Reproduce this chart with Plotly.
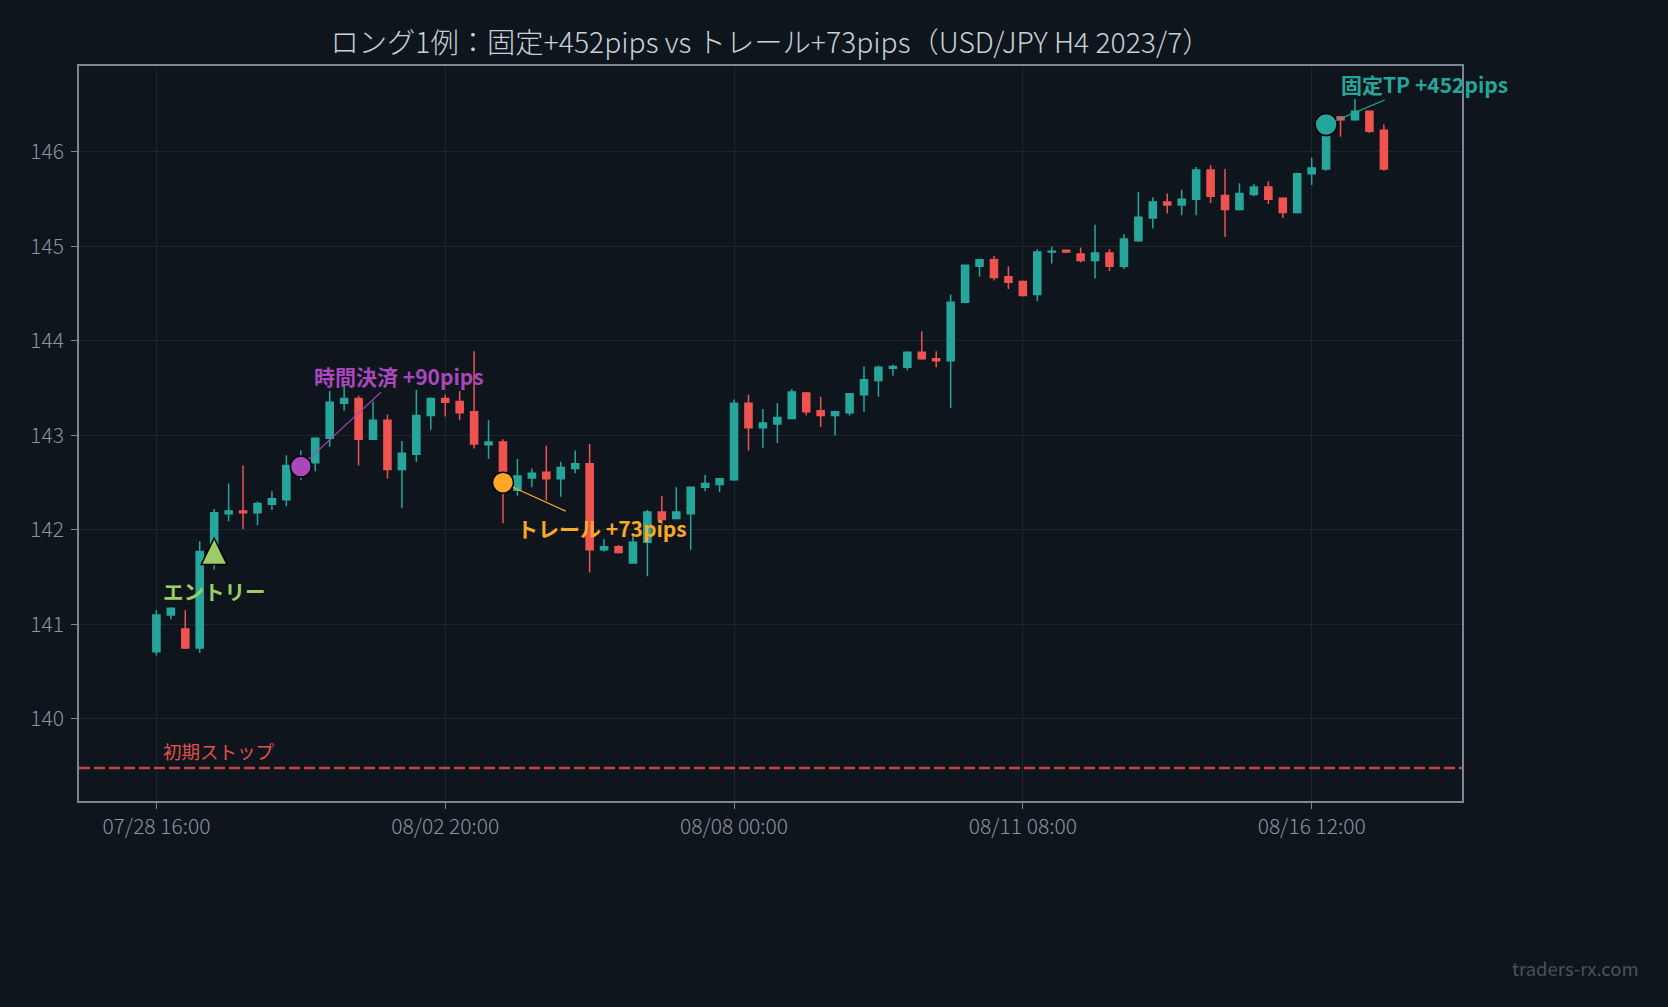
import pandas as pd
import plotly.graph_objects as go

# ---- data ----
OPEN = [140.71, 141.10, 140.95, 140.75, 141.77, 142.17, 142.20, 142.18, 142.27, 142.32,
        142.64, 142.71, 142.97, 143.34, 143.39, 142.96, 143.16, 142.64, 142.80, 143.21,
        143.39, 143.36, 143.25, 142.90, 142.93, 142.42, 142.55, 142.61, 142.54, 142.65,
        142.70, 141.79, 141.82, 141.65, 141.87, 142.19, 142.12, 142.17, 142.45, 142.48,
        142.53, 143.34, 143.08, 143.12, 143.18, 143.45, 143.26, 143.21, 143.24, 143.43,
        143.58, 143.71, 143.72, 143.88, 143.81, 143.79, 144.41, 144.79, 144.86, 144.68,
        144.63, 144.49, 144.94, 144.96, 144.92, 144.85, 144.93, 144.79, 145.06, 145.30,
        145.47, 145.44, 145.50, 145.81, 145.54, 145.39, 145.55, 145.63, 145.51, 145.36,
        145.77, 145.82, 146.37, 146.34, 146.43, 146.23]
HIGH = [141.15, 141.18, 141.15, 141.88, 142.22, 142.49, 142.68, 142.30, 142.41, 142.79,
        142.84, 142.98, 143.47, 143.54, 143.42, 143.36, 143.22, 142.94, 143.48, 143.40,
        143.43, 143.47, 143.89, 143.16, 142.96, 142.75, 142.65, 142.89, 142.72, 142.84,
        142.91, 141.90, 141.84, 141.94, 142.21, 142.36, 142.45, 142.45, 142.58, 142.55,
        143.38, 143.43, 143.28, 143.34, 143.49, 143.46, 143.41, 143.26, 143.45, 143.73,
        143.74, 143.75, 143.89, 144.10, 143.89, 144.49, 144.81, 144.87, 144.90, 144.79,
        144.64, 144.97, 145.00, 144.96, 144.99, 145.23, 144.97, 145.13, 145.58, 145.52,
        145.56, 145.60, 145.84, 145.86, 145.82, 145.67, 145.66, 145.69, 145.52, 145.78,
        145.94, 146.36, 146.38, 146.56, 146.44, 146.29]
LOW = [140.67, 141.05, 140.74, 140.70, 141.58, 142.09, 142.01, 142.05, 142.21, 142.25,
       142.53, 142.62, 142.88, 143.26, 142.68, 142.95, 142.54, 142.23, 142.72, 143.06,
       143.20, 143.16, 142.86, 142.75, 142.07, 142.36, 142.45, 142.31, 142.35, 142.60,
       141.55, 141.77, 141.75, 141.65, 141.51, 142.06, 142.11, 141.79, 142.41, 142.40,
       142.52, 142.84, 142.87, 142.92, 143.17, 143.21, 143.09, 143.00, 143.21, 143.25,
       143.41, 143.63, 143.69, 143.80, 143.72, 143.29, 144.40, 144.68, 144.64, 144.55,
       144.47, 144.42, 144.82, 144.93, 144.83, 144.66, 144.74, 144.76, 145.05, 145.19,
       145.35, 145.33, 145.33, 145.46, 145.10, 145.38, 145.53, 145.45, 145.30, 145.35,
       145.65, 145.80, 146.16, 146.33, 146.20, 145.80]
CLOSE = [141.10, 141.17, 140.75, 141.77, 142.18, 142.20, 142.18, 142.28, 142.33, 142.68,
         142.67, 142.97, 143.35, 143.39, 142.96, 143.16, 142.64, 142.81, 143.21, 143.39,
         143.35, 143.24, 142.91, 142.93, 142.50, 142.57, 142.60, 142.54, 142.66, 142.70,
         141.79, 141.82, 141.76, 141.87, 142.19, 142.11, 142.19, 142.45, 142.49, 142.54,
         143.34, 143.08, 143.13, 143.19, 143.46, 143.25, 143.21, 143.25, 143.44, 143.59,
         143.72, 143.73, 143.88, 143.81, 143.79, 144.41, 144.80, 144.86, 144.67, 144.62,
         144.48, 144.94, 144.95, 144.94, 144.85, 144.93, 144.79, 145.08, 145.31, 145.47,
         145.44, 145.50, 145.81, 145.53, 145.39, 145.56, 145.63, 145.50, 145.36, 145.77,
         145.83, 146.33, 146.34, 146.43, 146.22, 145.82]

TICK_LABELS = ["07/28 16:00", "08/02 20:00", "08/08 00:00", "08/11 08:00", "08/16 12:00"]

ENTRY_IDX, ENTRY_PRICE = 4, 141.77
TIME_IDX, TIME_PRICE = 10, 142.67
TRAIL_IDX, TRAIL_PRICE = 24, 142.50
TP_IDX, TP_PRICE = 81, 146.29
STOP_PRICE = 139.48

TITLE = "ロング1例：固定+452pips vs トレール+73pips（USD/JPY H4 2023/7）"

# H4 bar times (market closed from Sat 04:00 to Sun 20:00)
times = []
t = pd.Timestamp("2023-07-28 16:00")
while len(times) < len(OPEN):
    wd = t.weekday()
    if not (wd == 6 or (wd == 5 and t.hour > 0)):
        times.append(t.strftime("%m/%d %H:%M"))
    t += pd.Timedelta(hours=4)

FONT = "Noto Sans CJK JP"
BG = "#0e151d"
GRID = "#1c2630"
FRAME = "#7d8590"
TICKC = "#8b949e"
UP = "#26a69a"
DOWN = "#ef5350"
ENTRY_C = "#9ccc65"

fig = go.Figure()
fig.add_trace(go.Candlestick(
    x=times, open=OPEN, high=HIGH, low=LOW, close=CLOSE,
    increasing=dict(line=dict(color=UP, width=1.5), fillcolor=UP),
    decreasing=dict(line=dict(color=DOWN, width=1.5), fillcolor=DOWN),
    showlegend=False,
))

fig.add_shape(type="line", xref="paper", x0=0, x1=1, yref="y", y0=STOP_PRICE, y1=STOP_PRICE,
              line=dict(color="rgba(239,83,80,0.8)", width=2.5, dash="11px,4px"))

def marker(idx, price, color, size):
    fig.add_trace(go.Scatter(x=[times[idx]], y=[price], mode="markers", showlegend=False,
                             marker=dict(color=color, symbol="circle", size=size,
                                         line=dict(color="#000000", width=1.5))))

# entry triangle: a fixed-size pixel shape anchored at the entry bar / price
fig.add_shape(type="path", xref="x", yref="y", xsizemode="pixel", ysizemode="pixel",
              xanchor=ENTRY_IDX, yanchor=ENTRY_PRICE,
              path="M-13,-13 L13,-13 L0,13.5 Z",
              fillcolor=ENTRY_C, line=dict(color="#000000", width=1.5), layer="above")

marker(TIME_IDX, TIME_PRICE, "#ab47bc", 21)
marker(TRAIL_IDX, TRAIL_PRICE, "#ffa726", 21)
marker(TP_IDX, TP_PRICE, UP, 22)

def label(idx, price, text, color, ax, ay):
    fig.add_annotation(x=times[idx], y=price, text="<b>%s</b>" % text, showarrow=True,
                       ax=ax, ay=ay, arrowhead=0, arrowwidth=1.2, arrowcolor=color,
                       standoff=11, font=dict(family=FONT, size=21, color=color))

label(TIME_IDX, TIME_PRICE, "時間決済 +90pips", "#ab47bc", 98, -91)
label(TRAIL_IDX, TRAIL_PRICE, "トレール +73pips", "#ffa726", 99, 45)
label(TP_IDX, TP_PRICE, "固定TP +452pips", UP, 98, -41)
fig.add_annotation(x=times[ENTRY_IDX], y=ENTRY_PRICE, text="<b>エントリー</b>", showarrow=False,
                   yshift=-39, font=dict(family=FONT, size=20.5, color=ENTRY_C))
fig.add_annotation(x=times[0], y=STOP_PRICE, text="初期ストップ", showarrow=False,
                   xanchor="left", yanchor="bottom", xshift=5, yshift=2,
                   font=dict(family=FONT, size=18.5, color="#e0514f"))
fig.add_annotation(xref="paper", yref="paper", x=1.1296, y=-0.2272, text="traders-rx.com",
                   showarrow=False, xanchor="right", yanchor="middle",
                   font=dict(family=FONT, size=18.5, color="#4a525c"))

axis_common = dict(showgrid=True, gridcolor=GRID, gridwidth=1, showline=True, mirror=True,
                   linecolor=FRAME, linewidth=1.5, ticks="outside", ticklen=6, tickcolor=FRAME,
                   tickfont=dict(family=FONT, size=21, color=TICKC, weight=300), zeroline=False)

fig.update_layout(
    width=1668, height=1007,
    margin=dict(l=79, r=206, t=66, b=206),
    paper_bgcolor=BG, plot_bgcolor=BG,
    font=dict(family=FONT, color=TICKC),
    title=dict(text=TITLE, x=0.5, xref="paper", xanchor="center", y=1 - 43.5 / 1007,
               yref="container", yanchor="middle",
               font=dict(family=FONT, size=28.3, color="#c9d1d9", weight=300)),
    xaxis=dict(type="category", range=[-5.36, 90.41], tickmode="array",
               tickvals=TICK_LABELS, ticktext=TICK_LABELS, rangeslider=dict(visible=False),
               **axis_common),
    yaxis=dict(range=[139.13, 146.91], dtick=1, tick0=140, ticklabelstandoff=3, **axis_common),
    showlegend=False,
)

fig.write_html("out.html")
